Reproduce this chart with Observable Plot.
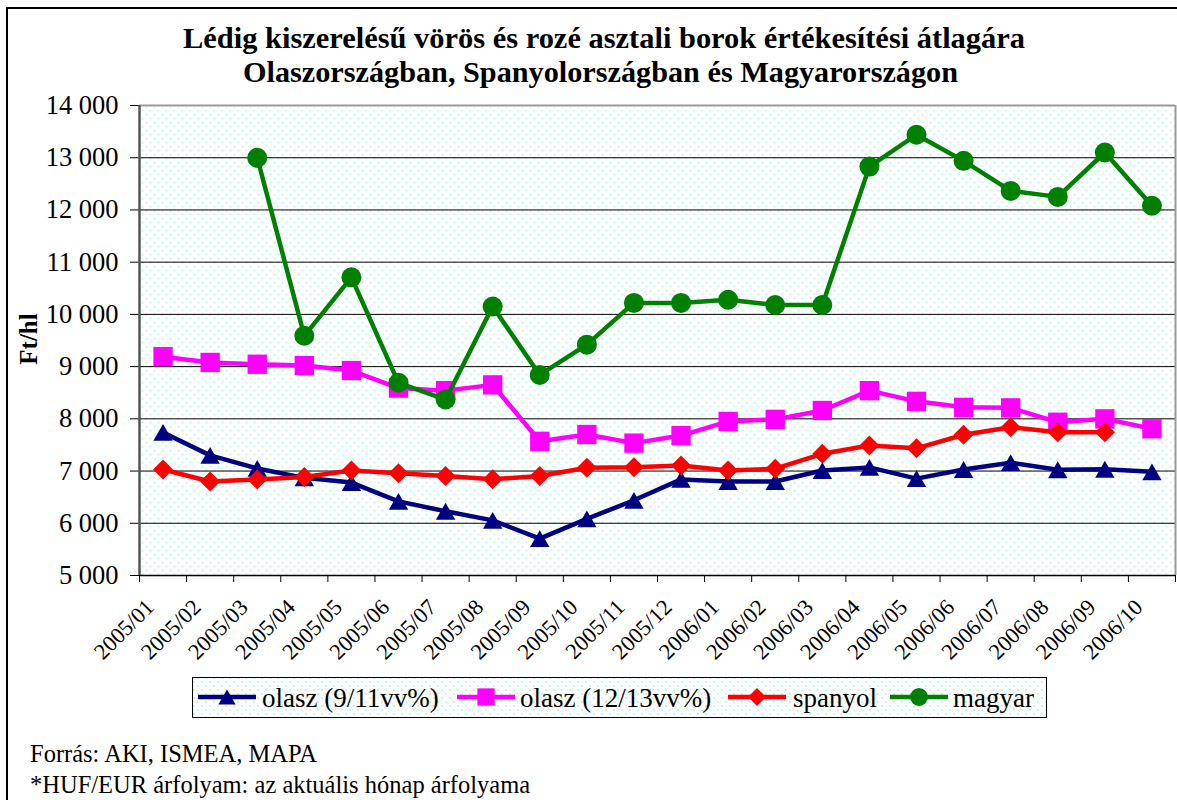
<!DOCTYPE html>
<html><head><meta charset="utf-8">
<script src="https://cdn.jsdelivr.net/npm/d3@7"></script>
<script src="https://cdn.jsdelivr.net/npm/@observablehq/plot@0.6"></script>
<style>
html,body{margin:0;padding:0;background:#fff;width:1177px;height:800px;overflow:hidden;}
#wrap{position:relative;width:1177px;height:800px;font-family:"Liberation Serif","Times New Roman",Times,serif;}
#chart{position:absolute;left:0;top:0;}
#border{position:absolute;left:6px;top:7px;width:1300px;height:1000px;border:2px solid #000;box-sizing:border-box;}
#overlay{position:absolute;left:0;top:0;}
</style></head><body>
<div id="wrap"><div id="chart"></div><div id="border"></div><svg id="overlay" width="1177" height="800"></svg></div>
<script>
// ---- data ----
const months = ["2005/01","2005/02","2005/03","2005/04","2005/05","2005/06","2005/07","2005/08","2005/09","2005/10","2005/11","2005/12",
                "2006/01","2006/02","2006/03","2006/04","2006/05","2006/06","2006/07","2006/08","2006/09","2006/10"];
const yTicks = [5000,6000,7000,8000,9000,10000,11000,12000,13000,14000];
const seriesNames = ["olasz (9/11vv%)","olasz (12/13vv%)","spanyol","magyar"];
const olasz911  = [7740,7300,7050,6870,6780,6420,6230,6055,5705,6085,6440,6840,6800,6800,7010,7070,6855,7030,7160,7025,7035,6985];
const olasz1213 = [9190,9080,9045,9020,8925,8590,8540,8650,7570,7700,7535,7680,7950,7990,8160,8540,8335,8220,8210,7935,8000,7810];
const spanyol   = [7030,6800,6840,6885,7010,6960,6905,6845,6905,7065,7075,7105,7010,7045,7330,7490,7435,7695,7840,7745,7745,null];
const magyar    = [null,null,13000,9590,10710,8690,8370,10150,8840,9420,10220,10220,10280,10180,10180,12830,13440,12940,12365,12250,13100,12080];
const titleLines = ["Lédig kiszerelésű vörös és rozé asztali borok értékesítési átlagára","Olaszországban, Spanyolországban és Magyarországon"];
const yTitle = "Ft/hl";
const footnotes = ["Forrás: AKI, ISMEA, MAPA","*HUF/EUR árfolyam: az aktuális hónap árfolyama"];

// ---- styles ----
const seriesValues = [olasz911, olasz1213, spanyol, magyar];
const colors = ["#000080","#ff00ff","#ff0000","#008000"];
const symbols = ["triangle","square","diamond2","circle"];
const radii = [7.2,10.9,9,10];
const symDy = [2.8,0,0,0];
const FONT = '"Liberation Serif","Times New Roman",Times,serif';
const fmt = d => d3.format(",")(d).replace(/,/g, " ");

const marks = [
  Plot.frame({fill: "url(#dots)"}),
  Plot.ruleY(yTicks.slice(1, -1), {stroke: "#000", strokeWidth: 1}),
  Plot.ruleY([14000], {stroke: "#999", strokeWidth: 2}),
  Plot.ruleX([22], {stroke: "#999", strokeWidth: 2}),
  Plot.axisY({ticks: yTicks, tickSize: 9, tickPadding: 12, tickFormat: fmt, label: null, fontSize: 26.5, fontFamily: FONT}),
  Plot.axisX({ticks: d3.range(23), tickSize: 7, tickFormat: () => "", label: null}),
  Plot.ruleY([5000], {stroke: "#000", strokeWidth: 1.5}),
  Plot.ruleX([0], {stroke: "#555", strokeWidth: 2.5}),
  Plot.text(months, {x: (d, i) => i + 0.5, y: () => 5000, text: d => d, rotate: -45, textAnchor: "end", dx: -13, dy: 28, fontSize: 22.5, fontFamily: FONT})
];
seriesValues.forEach((vals, k) => {
  const data = vals.map((v, i) => ({i: i + 0.5, v})).filter(d => d.v != null);
  marks.push(Plot.line(data, {x: "i", y: "v", stroke: colors[k], strokeWidth: 4.5}));
  marks.push(Plot.dot(data, {x: "i", y: "v", symbol: symbols[k], r: radii[k], fill: colors[k], dy: symDy[k]}));
});

const chart = Plot.plot({
  width: 1177, height: 670,
  marginLeft: 139, marginRight: 2, marginTop: 105, marginBottom: 95,
  x: {domain: [0, 22]},
  y: {domain: [5000, 14000]},
  style: {fontFamily: FONT, fontSize: "26.5px", color: "#000", background: "transparent", overflow: "visible"},
  marks
});
d3.select(chart).insert("defs", ":first-child").html(
  `<pattern id="dots" width="8" height="8" patternUnits="userSpaceOnUse">
     <rect width="8" height="8" fill="#fff"/>
     <rect x="1" y="1" width="2" height="2" fill="#c4f7f7"/>
     <rect x="5" y="5" width="2" height="2" fill="#c4f7f7"/>
   </pattern>`);
document.getElementById("chart").appendChild(chart);

// ---- overlay: title, axis title, legend, footnotes ----
const ov = d3.select("#overlay").style("font-family", FONT);
ov.append("text").attr("x", 183).attr("y", 48).attr("font-size", 30).attr("font-weight", "bold")
  .attr("textLength", 842).attr("lengthAdjust", "spacingAndGlyphs").text(titleLines[0]);
ov.append("text").attr("x", 243).attr("y", 82).attr("font-size", 30).attr("font-weight", "bold")
  .attr("textLength", 715).attr("lengthAdjust", "spacingAndGlyphs").text(titleLines[1]);
ov.append("text").attr("transform", "translate(37,339) rotate(-90)").attr("text-anchor", "middle")
  .attr("font-size", 25).attr("font-weight", "bold").text(yTitle);

ov.append("rect").attr("x", 192.5).attr("y", 677.5).attr("width", 854).attr("height", 40)
  .attr("fill", "url(#dots)").attr("stroke", "#000").attr("stroke-width", 1);
const legendX = [[198, 262], [457, 520], [728, 793], [890, 953]];
const symMap = {triangle: d3.symbolTriangle, square: d3.symbolSquare, diamond2: d3.symbolDiamond2, circle: d3.symbolCircle};
seriesNames.forEach((name, k) => {
  const [sx, tx] = legendX[k];
  ov.append("line").attr("x1", sx).attr("x2", sx + 58).attr("y1", 697).attr("y2", 697)
    .attr("stroke", colors[k]).attr("stroke-width", 4.5);
  ov.append("path").attr("d", d3.symbol(symMap[symbols[k]], Math.PI * radii[k] * radii[k] * 0.8)())
    .attr("transform", `translate(${sx + 29},${697 + symDy[k] * 0.9})`).attr("fill", colors[k]);
  ov.append("text").attr("x", tx).attr("y", 707).attr("font-size", 27).text(name);
});
ov.append("text").attr("x", 30).attr("y", 762).attr("font-size", 24.5).text(footnotes[0]);
ov.append("text").attr("x", 30).attr("y", 793).attr("font-size", 24.5).text(footnotes[1]);
</script></body></html>
